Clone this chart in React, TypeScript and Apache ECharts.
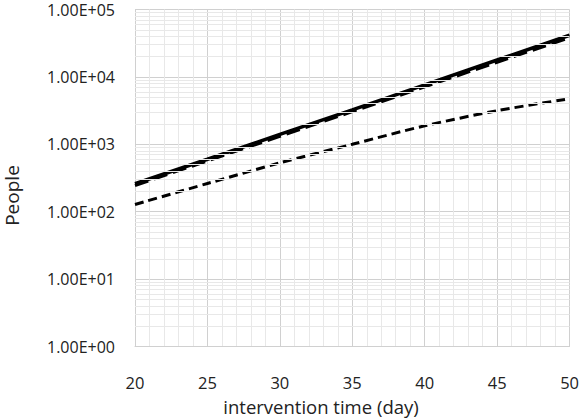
import { useEffect, useRef } from "react";
import * as echarts from "echarts";

const days = [20, 25, 30, 35, 40, 45, 50];
const solidValues = [260, 600, 1400, 3250, 7600, 17800, 41500];
const longDashValues = [245, 565, 1310, 3050, 7100, 16500, 38000];
const shortDashValues = [128, 262, 530, 1000, 1880, 3150, 4750];
const yDecades = [1, 10, 100, 1000, 10000];
const minorMultipliers = [2, 3, 4, 5, 6, 7, 8, 9];
const xTitle = "intervention time (day)";
const yTitle = "People";

const FONT = "Open Sans";
const TEXT = "#222222";

export default function App() {
  const ref = useRef<HTMLDivElement>(null);
  useEffect(() => {
    document.body.style.margin = "0";
    const chart = echarts.init(ref.current!, null, { renderer: "svg" });
    const pair = (vals: number[]) => days.map((d, i) => [d, vals[i]]);
    const minorLines: any[] = [];
    yDecades.forEach((d) =>
      minorMultipliers.forEach((m) => minorLines.push({ yAxis: d * m }))
    );
    chart.setOption({
      animation: false,
      backgroundColor: "#ffffff",
      grid: { left: 135, right: 11, top: 9.5, bottom: 72.5, containLabel: false },
      xAxis: {
        type: "value",
        min: 20,
        max: 50,
        interval: 5,
        axisLine: { show: true, lineStyle: { color: "#d0d0d0", width: 1 } },
        axisTick: { show: false },
        axisLabel: {
          color: TEXT,
          fontFamily: FONT,
          fontSize: 16.5,
          lineHeight: 16,
          margin: 28,
        },
        splitLine: { show: true, lineStyle: { color: "#d0d0d0", width: 1 } },
        minorTick: { show: false, splitNumber: 5 },
        minorSplitLine: { show: true, lineStyle: { color: "#e8e8e8", width: 1 } },
      },
      yAxis: {
        type: "log",
        logBase: 10,
        min: 1,
        max: 100000,
        interval: 1,
        axisLine: { show: true, lineStyle: { color: "#d0d0d0", width: 1 } },
        axisTick: { show: false },
        axisLabel: {
          color: TEXT,
          fontFamily: FONT,
          fontSize: 16,
          lineHeight: 16,
          margin: 20,
          formatter: (v: number) => {
            const e = Math.round(Math.log10(v));
            return "1.00E+" + String(e).padStart(2, "0");
          },
        },
        splitLine: { show: true, lineStyle: { color: "#d0d0d0", width: 1 } },
      },
      graphic: [
        {
          type: "text",
          x: 321,
          y: 406.5,
          style: {
            text: xTitle,
            fontFamily: FONT,
            fontSize: 18.5,
            lineHeight: 18,
            fill: TEXT,
            textAlign: "center",
            textVerticalAlign: "middle",
          },
        },
        {
          type: "text",
          x: 12,
          y: 195.5,
          rotation: Math.PI / 2,
          style: {
            text: yTitle,
            fontFamily: FONT,
            fontSize: 19,
            lineHeight: 19,
            fill: TEXT,
            textAlign: "center",
            textVerticalAlign: "middle",
          },
        },
      ],
      series: [
        {
          type: "line",
          data: [],
          z: 1,
          silent: true,
          markLine: {
            silent: true,
            symbol: "none",
            label: { show: false },
            lineStyle: { color: "#e8e8e8", width: 1, type: "solid" },
            data: minorLines,
          },
        },
        {
          name: "long dash",
          type: "line",
          data: pair(longDashValues),
          z: 3,
          showSymbol: false,
          lineStyle: { color: "#000", width: 3, type: [14, 6] },
        },
        {
          name: "solid",
          type: "line",
          data: pair(solidValues),
          z: 4,
          showSymbol: false,
          lineStyle: { color: "#000", width: 3.5, type: "solid" },
        },
        {
          name: "short dash",
          type: "line",
          data: pair(shortDashValues),
          z: 3,
          showSymbol: false,
          smooth: 0.3,
          lineStyle: { color: "#000", width: 3, type: [9, 5] },
        },
      ],
    });
    return () => chart.dispose();
  }, []);
  return <div ref={ref} style={{ width: 582, height: 419 }} />;
}
